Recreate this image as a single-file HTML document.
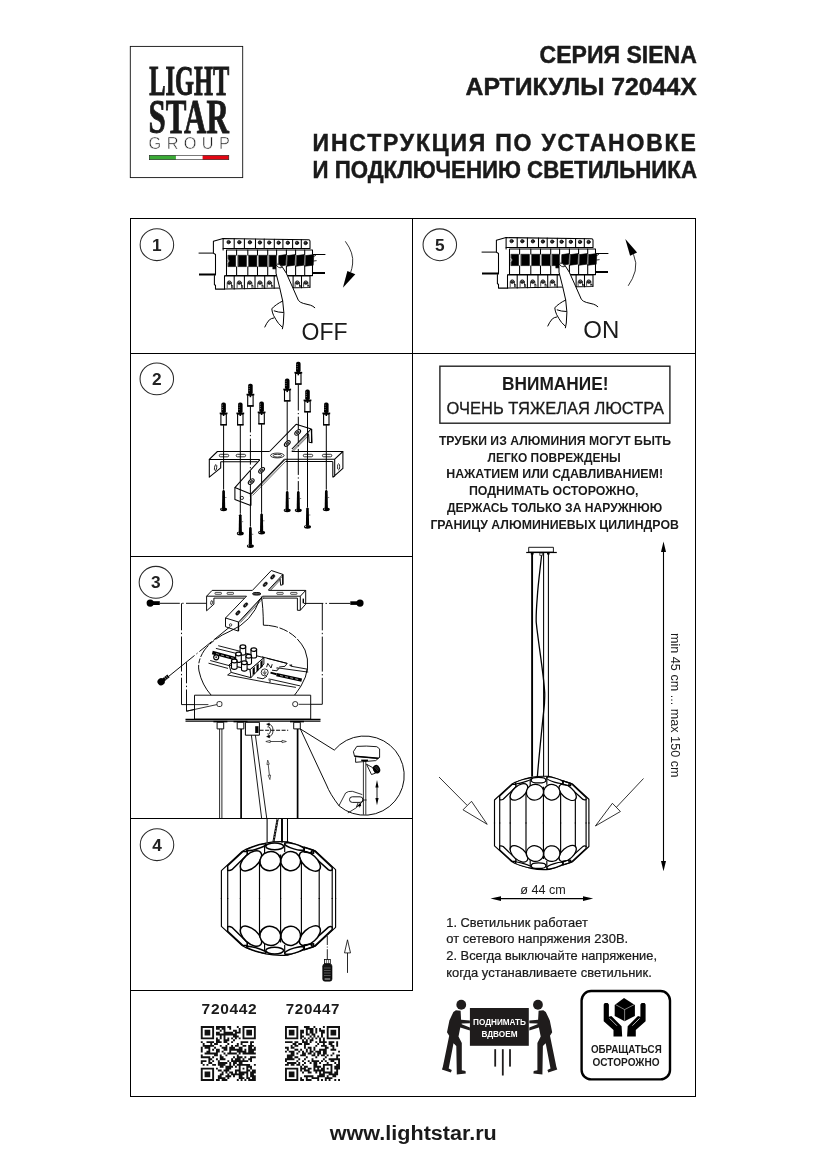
<!DOCTYPE html>
<html><head><meta charset="utf-8"><title>Siena 72044X</title>
<style>html,body{margin:0;padding:0;background:#fff}body{width:826px;height:1169px;overflow:hidden;font-family:"Liberation Sans",sans-serif}svg{display:block;will-change:transform}.el{stroke-width:1.5px}</style>
</head><body>
<svg width="826" height="1169" viewBox="0 0 826 1169">
<rect width="826" height="1169" fill="#fff"/>
<g stroke="#000" stroke-width="1" fill="none" shape-rendering="crispEdges">
<rect x="130.5" y="218.5" width="565" height="878"/>
<line x1="412.5" y1="218" x2="412.5" y2="990.5"/>
<line x1="130" y1="353.5" x2="696" y2="353.5"/>
<line x1="130" y1="556.5" x2="412" y2="556.5"/>
<line x1="130" y1="818.5" x2="412" y2="818.5"/>
<line x1="130" y1="990.5" x2="413" y2="990.5"/>
</g>
<rect x="130.3" y="46.4" width="112.4" height="131.2" fill="none" stroke="#111" stroke-width="0.9"/>
<text x="149.3" y="95.3" style="font-family:'Liberation Serif',sans-serif" font-size="41.5" font-weight="bold" fill="#1a1a1a" text-anchor="start" textLength="80.0" lengthAdjust="spacingAndGlyphs" stroke="#1a1a1a" stroke-width="1.0">LIGHT</text>
<text x="148.4" y="133.0" style="font-family:'Liberation Serif',sans-serif" font-size="48" font-weight="bold" fill="#1a1a1a" text-anchor="start" textLength="80.4" lengthAdjust="spacingAndGlyphs" stroke="#1a1a1a" stroke-width="0.9">STAR</text>
<text x="148.6" y="149.1" style="font-family:'Liberation Sans',sans-serif" font-size="16.3" font-weight="normal" fill="#222" text-anchor="start" textLength="81.2" lengthAdjust="spacing" stroke="#fff" stroke-width="0.5">GROUP</text>
<rect x="149.3" y="155.3" width="26.6" height="4.4" fill="#3aaa35"/>
<rect x="202.6" y="155.3" width="26.2" height="4.4" fill="#e30613"/>
<rect x="149.3" y="155.3" width="79.5" height="4.4" fill="none" stroke="#222" stroke-width="0.6"/>
<text x="539.6" y="62.8" style="font-family:'Liberation Sans',sans-serif" font-size="23" font-weight="bold" fill="#1a1a1a" text-anchor="start" textLength="157.2" lengthAdjust="spacingAndGlyphs" stroke="#1a1a1a" stroke-width="0.45">СЕРИЯ SIENA</text>
<text x="465.5" y="94.7" style="font-family:'Liberation Sans',sans-serif" font-size="23" font-weight="bold" fill="#1a1a1a" text-anchor="start" textLength="231.2" lengthAdjust="spacingAndGlyphs" stroke="#1a1a1a" stroke-width="0.45">АРТИКУЛЫ 72044X</text>
<text x="312.6" y="150.6" style="font-family:'Liberation Sans',sans-serif" font-size="23" font-weight="bold" fill="#1a1a1a" text-anchor="start" textLength="383.2" lengthAdjust="spacing" stroke="#1a1a1a" stroke-width="0.45">ИНСТРУКЦИЯ ПО УСТАНОВКЕ</text>
<text x="312.6" y="177.8" style="font-family:'Liberation Sans',sans-serif" font-size="23" font-weight="bold" fill="#1a1a1a" text-anchor="start" textLength="384.4" lengthAdjust="spacingAndGlyphs" stroke="#1a1a1a" stroke-width="0.45">И ПОДКЛЮЧЕНИЮ СВЕТИЛЬНИКА</text>
<ellipse cx="156.9" cy="244.7" rx="16.75" ry="15.9" fill="none" stroke="#2a2a2a" stroke-width="1.05"/>
<text x="156.9" y="250.79999999999998" style="font-family:'Liberation Sans',sans-serif" font-size="17.3" font-weight="bold" fill="#222" text-anchor="middle" >1</text>
<ellipse cx="439.8" cy="244.75" rx="16.75" ry="15.9" fill="none" stroke="#2a2a2a" stroke-width="1.05"/>
<text x="439.8" y="250.85" style="font-family:'Liberation Sans',sans-serif" font-size="17.3" font-weight="bold" fill="#222" text-anchor="middle" >5</text>
<ellipse cx="156.8" cy="378.9" rx="16.75" ry="15.9" fill="none" stroke="#2a2a2a" stroke-width="1.05"/>
<text x="156.8" y="385.0" style="font-family:'Liberation Sans',sans-serif" font-size="17.3" font-weight="bold" fill="#222" text-anchor="middle" >2</text>
<ellipse cx="155.9" cy="582.3" rx="16.75" ry="15.9" fill="none" stroke="#2a2a2a" stroke-width="1.05"/>
<text x="155.9" y="588.4" style="font-family:'Liberation Sans',sans-serif" font-size="17.3" font-weight="bold" fill="#222" text-anchor="middle" >3</text>
<ellipse cx="157" cy="844.7" rx="16.75" ry="15.9" fill="none" stroke="#2a2a2a" stroke-width="1.05"/>
<text x="157" y="850.8000000000001" style="font-family:'Liberation Sans',sans-serif" font-size="17.3" font-weight="bold" fill="#222" text-anchor="middle" >4</text>
<text x="301.5" y="339.7" style="font-family:'Liberation Sans',sans-serif" font-size="23" font-weight="normal" fill="#1a1a1a" text-anchor="start" textLength="46" lengthAdjust="spacingAndGlyphs" >OFF</text>
<text x="583.3" y="337.9" style="font-family:'Liberation Sans',sans-serif" font-size="23.3" font-weight="normal" fill="#1a1a1a" text-anchor="start" textLength="36" lengthAdjust="spacingAndGlyphs" >ON</text>
<rect x="439.9" y="366.2" width="230" height="57" fill="none" stroke="#222" stroke-width="1.4"/>
<text x="502" y="389.6" style="font-family:'Liberation Sans',sans-serif" font-size="17.5" font-weight="bold" fill="#1a1a1a" text-anchor="start" textLength="106.5" lengthAdjust="spacingAndGlyphs" >ВНИМАНИЕ!</text>
<text x="446.6" y="413.5" style="font-family:'Liberation Sans',sans-serif" font-size="17.3" font-weight="normal" fill="#1a1a1a" text-anchor="start" textLength="217.5" lengthAdjust="spacingAndGlyphs" stroke="#1a1a1a" stroke-width="0.3">ОЧЕНЬ ТЯЖЕЛАЯ ЛЮСТРА</text>
<text x="438.9" y="444.5" style="font-family:'Liberation Sans',sans-serif" font-size="12.2" font-weight="bold" fill="#1a1a1a" text-anchor="start" textLength="232.2" lengthAdjust="spacingAndGlyphs" >ТРУБКИ ИЗ АЛЮМИНИЯ МОГУТ БЫТЬ</text>
<text x="487.5" y="461.5" style="font-family:'Liberation Sans',sans-serif" font-size="12.2" font-weight="bold" fill="#1a1a1a" text-anchor="start" textLength="133.3" lengthAdjust="spacingAndGlyphs" >ЛЕГКО ПОВРЕЖДЕНЫ</text>
<text x="446.2" y="478.4" style="font-family:'Liberation Sans',sans-serif" font-size="12.2" font-weight="bold" fill="#1a1a1a" text-anchor="start" textLength="216.9" lengthAdjust="spacingAndGlyphs" >НАЖАТИЕМ ИЛИ СДАВЛИВАНИЕМ!</text>
<text x="468.9" y="495.4" style="font-family:'Liberation Sans',sans-serif" font-size="12.2" font-weight="bold" fill="#1a1a1a" text-anchor="start" textLength="169.6" lengthAdjust="spacingAndGlyphs" >ПОДНИМАТЬ ОСТОРОЖНО,</text>
<text x="446.9" y="512.3" style="font-family:'Liberation Sans',sans-serif" font-size="12.2" font-weight="bold" fill="#1a1a1a" text-anchor="start" textLength="215.4" lengthAdjust="spacingAndGlyphs" >ДЕРЖАСЬ ТОЛЬКО ЗА НАРУЖНЮЮ</text>
<text x="430.4" y="529.3" style="font-family:'Liberation Sans',sans-serif" font-size="12.2" font-weight="bold" fill="#1a1a1a" text-anchor="start" textLength="248.5" lengthAdjust="spacingAndGlyphs" >ГРАНИЦУ АЛЮМИНИЕВЫХ ЦИЛИНДРОВ</text>
<text x="446.3" y="926.8" style="font-family:'Liberation Sans',sans-serif" font-size="12.6" font-weight="normal" fill="#1a1a1a" text-anchor="start" textLength="141.5" lengthAdjust="spacingAndGlyphs" stroke="#1a1a1a" stroke-width="0.22">1. Светильник работает</text>
<text x="446.3" y="943.3" style="font-family:'Liberation Sans',sans-serif" font-size="12.6" font-weight="normal" fill="#1a1a1a" text-anchor="start" textLength="181.9" lengthAdjust="spacingAndGlyphs" stroke="#1a1a1a" stroke-width="0.22">от сетевого напряжения 230В.</text>
<text x="446.3" y="960.3" style="font-family:'Liberation Sans',sans-serif" font-size="12.6" font-weight="normal" fill="#1a1a1a" text-anchor="start" textLength="210.7" lengthAdjust="spacingAndGlyphs" stroke="#1a1a1a" stroke-width="0.22">2. Всегда выключайте напряжение,</text>
<text x="446.3" y="977.1" style="font-family:'Liberation Sans',sans-serif" font-size="12.6" font-weight="normal" fill="#1a1a1a" text-anchor="start" textLength="205.5" lengthAdjust="spacingAndGlyphs" stroke="#1a1a1a" stroke-width="0.22">когда устанавливаете светильник.</text>
<g stroke="#000" stroke-width="1.1" fill="#000">
<line x1="663.5" y1="548" x2="663.5" y2="865"/>
<path d="M663.5 541.5 L666 552 L661 552 Z M663.5 871.3 L666 861 L661 861 Z" stroke="none"/>
<line x1="497" y1="898.6" x2="587" y2="898.6"/>
<path d="M490.5 898.6 L501 896.2 L501 901 Z M593.2 898.6 L583 896.2 L583 901 Z" stroke="none"/>
</g>
<text x="520.2" y="893.6" style="font-family:'Liberation Sans',sans-serif" font-size="12.6" font-weight="normal" fill="#1a1a1a" text-anchor="start" textLength="45.5" lengthAdjust="spacingAndGlyphs" >ø 44 cm</text>
<g transform="translate(671,633) rotate(90)">
<text x="0" y="0" style="font-family:'Liberation Sans',sans-serif" font-size="13.2" font-weight="normal" fill="#1a1a1a" text-anchor="start" textLength="144.5" lengthAdjust="spacingAndGlyphs" >min 45 cm ... max 150 cm</text>
</g>
<text x="201.6" y="1013.8" style="font-family:'Liberation Sans',sans-serif" font-size="14.2" font-weight="bold" fill="#1a1a1a" text-anchor="start" textLength="55.8" lengthAdjust="spacingAndGlyphs" letter-spacing="0.6">720442</text>
<text x="285.8" y="1013.8" style="font-family:'Liberation Sans',sans-serif" font-size="14.2" font-weight="bold" fill="#1a1a1a" text-anchor="start" textLength="54.4" lengthAdjust="spacingAndGlyphs" letter-spacing="0.6">720447</text>
<path d="M200.80 1026.00h13.28v1.90h-13.28zM215.97 1026.00h9.48v1.90h-9.48zM227.35 1026.00h3.79v1.90h-3.79zM236.83 1026.00h1.90v1.90h-1.90zM242.52 1026.00h13.28v1.90h-13.28zM200.80 1027.90h1.90v1.90h-1.90zM212.18 1027.90h1.90v1.90h-1.90zM215.97 1027.90h3.79v1.90h-3.79zM221.66 1027.90h3.79v1.90h-3.79zM229.25 1027.90h1.90v1.90h-1.90zM238.73 1027.90h1.90v1.90h-1.90zM242.52 1027.90h1.90v1.90h-1.90zM253.90 1027.90h1.90v1.90h-1.90zM200.80 1029.79h1.90v1.90h-1.90zM204.59 1029.79h5.69v1.90h-5.69zM212.18 1029.79h1.90v1.90h-1.90zM219.77 1029.79h1.90v1.90h-1.90zM223.56 1029.79h1.90v1.90h-1.90zM233.04 1029.79h3.79v1.90h-3.79zM238.73 1029.79h1.90v1.90h-1.90zM242.52 1029.79h1.90v1.90h-1.90zM246.32 1029.79h5.69v1.90h-5.69zM253.90 1029.79h1.90v1.90h-1.90zM200.80 1031.69h1.90v1.90h-1.90zM204.59 1031.69h5.69v1.90h-5.69zM212.18 1031.69h1.90v1.90h-1.90zM215.97 1031.69h3.79v1.90h-3.79zM223.56 1031.69h9.48v1.90h-9.48zM234.94 1031.69h5.69v1.90h-5.69zM242.52 1031.69h1.90v1.90h-1.90zM246.32 1031.69h5.69v1.90h-5.69zM253.90 1031.69h1.90v1.90h-1.90zM200.80 1033.59h1.90v1.90h-1.90zM204.59 1033.59h5.69v1.90h-5.69zM212.18 1033.59h1.90v1.90h-1.90zM215.97 1033.59h20.86v1.90h-20.86zM242.52 1033.59h1.90v1.90h-1.90zM246.32 1033.59h5.69v1.90h-5.69zM253.90 1033.59h1.90v1.90h-1.90zM200.80 1035.48h1.90v1.90h-1.90zM212.18 1035.48h1.90v1.90h-1.90zM219.77 1035.48h1.90v1.90h-1.90zM223.56 1035.48h1.90v1.90h-1.90zM233.04 1035.48h5.69v1.90h-5.69zM242.52 1035.48h1.90v1.90h-1.90zM253.90 1035.48h1.90v1.90h-1.90zM200.80 1037.38h13.28v1.90h-13.28zM215.97 1037.38h1.90v1.90h-1.90zM219.77 1037.38h1.90v1.90h-1.90zM223.56 1037.38h1.90v1.90h-1.90zM227.35 1037.38h1.90v1.90h-1.90zM231.14 1037.38h1.90v1.90h-1.90zM234.94 1037.38h1.90v1.90h-1.90zM238.73 1037.38h1.90v1.90h-1.90zM242.52 1037.38h13.28v1.90h-13.28zM215.97 1039.28h3.79v1.90h-3.79zM223.56 1039.28h5.69v1.90h-5.69zM233.04 1039.28h1.90v1.90h-1.90zM200.80 1041.17h1.90v1.90h-1.90zM206.49 1041.17h7.59v1.90h-7.59zM215.97 1041.17h5.69v1.90h-5.69zM223.56 1041.17h3.79v1.90h-3.79zM231.14 1041.17h1.90v1.90h-1.90zM240.63 1041.17h7.59v1.90h-7.59zM250.11 1041.17h3.79v1.90h-3.79zM202.70 1043.07h1.90v1.90h-1.90zM210.28 1043.07h1.90v1.90h-1.90zM214.08 1043.07h3.79v1.90h-3.79zM227.35 1043.07h1.90v1.90h-1.90zM236.83 1043.07h1.90v1.90h-1.90zM240.63 1043.07h1.90v1.90h-1.90zM250.11 1043.07h1.90v1.90h-1.90zM202.70 1044.97h11.38v1.90h-11.38zM219.77 1044.97h1.90v1.90h-1.90zM225.46 1044.97h1.90v1.90h-1.90zM231.14 1044.97h1.90v1.90h-1.90zM234.94 1044.97h3.79v1.90h-3.79zM242.52 1044.97h3.79v1.90h-3.79zM248.21 1044.97h5.69v1.90h-5.69zM200.80 1046.86h1.90v1.90h-1.90zM204.59 1046.86h5.69v1.90h-5.69zM214.08 1046.86h1.90v1.90h-1.90zM221.66 1046.86h5.69v1.90h-5.69zM229.25 1046.86h5.69v1.90h-5.69zM238.73 1046.86h3.79v1.90h-3.79zM248.21 1046.86h3.79v1.90h-3.79zM253.90 1046.86h1.90v1.90h-1.90zM200.80 1048.76h1.90v1.90h-1.90zM208.39 1048.76h1.90v1.90h-1.90zM212.18 1048.76h1.90v1.90h-1.90zM215.97 1048.76h3.79v1.90h-3.79zM223.56 1048.76h3.79v1.90h-3.79zM229.25 1048.76h13.28v1.90h-13.28zM244.42 1048.76h1.90v1.90h-1.90zM248.21 1048.76h7.59v1.90h-7.59zM200.80 1050.66h1.90v1.90h-1.90zM206.49 1050.66h3.79v1.90h-3.79zM215.97 1050.66h3.79v1.90h-3.79zM221.66 1050.66h1.90v1.90h-1.90zM229.25 1050.66h1.90v1.90h-1.90zM236.83 1050.66h9.48v1.90h-9.48zM248.21 1050.66h5.69v1.90h-5.69zM204.59 1052.55h13.28v1.90h-13.28zM223.56 1052.55h1.90v1.90h-1.90zM227.35 1052.55h9.48v1.90h-9.48zM238.73 1052.55h1.90v1.90h-1.90zM242.52 1052.55h13.28v1.90h-13.28zM200.80 1054.45h1.90v1.90h-1.90zM214.08 1054.45h3.79v1.90h-3.79zM219.77 1054.45h1.90v1.90h-1.90zM225.46 1054.45h1.90v1.90h-1.90zM236.83 1054.45h1.90v1.90h-1.90zM200.80 1056.34h9.48v1.90h-9.48zM212.18 1056.34h1.90v1.90h-1.90zM219.77 1056.34h3.79v1.90h-3.79zM233.04 1056.34h1.90v1.90h-1.90zM236.83 1056.34h5.69v1.90h-5.69zM244.42 1056.34h1.90v1.90h-1.90zM250.11 1056.34h5.69v1.90h-5.69zM208.39 1058.24h3.79v1.90h-3.79zM215.97 1058.24h1.90v1.90h-1.90zM219.77 1058.24h5.69v1.90h-5.69zM231.14 1058.24h1.90v1.90h-1.90zM234.94 1058.24h5.69v1.90h-5.69zM242.52 1058.24h1.90v1.90h-1.90zM248.21 1058.24h3.79v1.90h-3.79zM200.80 1060.14h5.69v1.90h-5.69zM208.39 1060.14h1.90v1.90h-1.90zM212.18 1060.14h1.90v1.90h-1.90zM217.87 1060.14h1.90v1.90h-1.90zM227.35 1060.14h1.90v1.90h-1.90zM231.14 1060.14h17.07v1.90h-17.07zM250.11 1060.14h1.90v1.90h-1.90zM200.80 1062.03h1.90v1.90h-1.90zM208.39 1062.03h3.79v1.90h-3.79zM217.87 1062.03h9.48v1.90h-9.48zM229.25 1062.03h1.90v1.90h-1.90zM233.04 1062.03h3.79v1.90h-3.79zM238.73 1062.03h3.79v1.90h-3.79zM202.70 1063.93h1.90v1.90h-1.90zM206.49 1063.93h1.90v1.90h-1.90zM212.18 1063.93h3.79v1.90h-3.79zM217.87 1063.93h7.59v1.90h-7.59zM229.25 1063.93h1.90v1.90h-1.90zM233.04 1063.93h1.90v1.90h-1.90zM236.83 1063.93h13.28v1.90h-13.28zM253.90 1063.93h1.90v1.90h-1.90zM219.77 1065.83h3.79v1.90h-3.79zM225.46 1065.83h7.59v1.90h-7.59zM234.94 1065.83h1.90v1.90h-1.90zM238.73 1065.83h1.90v1.90h-1.90zM246.32 1065.83h5.69v1.90h-5.69zM200.80 1067.72h13.28v1.90h-13.28zM215.97 1067.72h1.90v1.90h-1.90zM225.46 1067.72h5.69v1.90h-5.69zM238.73 1067.72h1.90v1.90h-1.90zM242.52 1067.72h1.90v1.90h-1.90zM246.32 1067.72h1.90v1.90h-1.90zM250.11 1067.72h1.90v1.90h-1.90zM200.80 1069.62h1.90v1.90h-1.90zM212.18 1069.62h1.90v1.90h-1.90zM217.87 1069.62h3.79v1.90h-3.79zM223.56 1069.62h5.69v1.90h-5.69zM234.94 1069.62h5.69v1.90h-5.69zM246.32 1069.62h3.79v1.90h-3.79zM252.01 1069.62h3.79v1.90h-3.79zM200.80 1071.52h1.90v1.90h-1.90zM204.59 1071.52h5.69v1.90h-5.69zM212.18 1071.52h1.90v1.90h-1.90zM221.66 1071.52h1.90v1.90h-1.90zM225.46 1071.52h1.90v1.90h-1.90zM229.25 1071.52h3.79v1.90h-3.79zM234.94 1071.52h1.90v1.90h-1.90zM238.73 1071.52h9.48v1.90h-9.48zM250.11 1071.52h5.69v1.90h-5.69zM200.80 1073.41h1.90v1.90h-1.90zM204.59 1073.41h5.69v1.90h-5.69zM212.18 1073.41h1.90v1.90h-1.90zM219.77 1073.41h3.79v1.90h-3.79zM227.35 1073.41h1.90v1.90h-1.90zM231.14 1073.41h13.28v1.90h-13.28zM246.32 1073.41h1.90v1.90h-1.90zM250.11 1073.41h3.79v1.90h-3.79zM200.80 1075.31h1.90v1.90h-1.90zM204.59 1075.31h5.69v1.90h-5.69zM212.18 1075.31h1.90v1.90h-1.90zM217.87 1075.31h3.79v1.90h-3.79zM225.46 1075.31h5.69v1.90h-5.69zM233.04 1075.31h1.90v1.90h-1.90zM238.73 1075.31h3.79v1.90h-3.79zM246.32 1075.31h1.90v1.90h-1.90zM250.11 1075.31h5.69v1.90h-5.69zM200.80 1077.21h1.90v1.90h-1.90zM212.18 1077.21h1.90v1.90h-1.90zM217.87 1077.21h7.59v1.90h-7.59zM227.35 1077.21h1.90v1.90h-1.90zM238.73 1077.21h5.69v1.90h-5.69zM246.32 1077.21h3.79v1.90h-3.79zM252.01 1077.21h3.79v1.90h-3.79zM200.80 1079.10h13.28v1.90h-13.28zM215.97 1079.10h3.79v1.90h-3.79zM221.66 1079.10h5.69v1.90h-5.69zM236.83 1079.10h1.90v1.90h-1.90zM240.63 1079.10h1.90v1.90h-1.90zM244.42 1079.10h1.90v1.90h-1.90zM248.21 1079.10h7.59v1.90h-7.59z" fill="#111"/>
<path d="M285.00 1026.00h13.28v1.90h-13.28zM303.97 1026.00h5.69v1.90h-5.69zM313.45 1026.00h1.90v1.90h-1.90zM322.93 1026.00h1.90v1.90h-1.90zM326.72 1026.00h13.28v1.90h-13.28zM285.00 1027.90h1.90v1.90h-1.90zM296.38 1027.90h1.90v1.90h-1.90zM305.86 1027.90h7.59v1.90h-7.59zM315.34 1027.90h1.90v1.90h-1.90zM319.14 1027.90h1.90v1.90h-1.90zM326.72 1027.90h1.90v1.90h-1.90zM338.10 1027.90h1.90v1.90h-1.90zM285.00 1029.79h1.90v1.90h-1.90zM288.79 1029.79h5.69v1.90h-5.69zM296.38 1029.79h1.90v1.90h-1.90zM300.17 1029.79h3.79v1.90h-3.79zM305.86 1029.79h1.90v1.90h-1.90zM309.66 1029.79h3.79v1.90h-3.79zM315.34 1029.79h1.90v1.90h-1.90zM319.14 1029.79h5.69v1.90h-5.69zM326.72 1029.79h1.90v1.90h-1.90zM330.52 1029.79h5.69v1.90h-5.69zM338.10 1029.79h1.90v1.90h-1.90zM285.00 1031.69h1.90v1.90h-1.90zM288.79 1031.69h5.69v1.90h-5.69zM296.38 1031.69h1.90v1.90h-1.90zM300.17 1031.69h3.79v1.90h-3.79zM305.86 1031.69h1.90v1.90h-1.90zM309.66 1031.69h3.79v1.90h-3.79zM315.34 1031.69h1.90v1.90h-1.90zM321.03 1031.69h3.79v1.90h-3.79zM326.72 1031.69h1.90v1.90h-1.90zM330.52 1031.69h5.69v1.90h-5.69zM338.10 1031.69h1.90v1.90h-1.90zM285.00 1033.59h1.90v1.90h-1.90zM288.79 1033.59h5.69v1.90h-5.69zM296.38 1033.59h1.90v1.90h-1.90zM300.17 1033.59h1.90v1.90h-1.90zM305.86 1033.59h3.79v1.90h-3.79zM311.55 1033.59h3.79v1.90h-3.79zM321.03 1033.59h1.90v1.90h-1.90zM326.72 1033.59h1.90v1.90h-1.90zM330.52 1033.59h5.69v1.90h-5.69zM338.10 1033.59h1.90v1.90h-1.90zM285.00 1035.48h1.90v1.90h-1.90zM296.38 1035.48h1.90v1.90h-1.90zM300.17 1035.48h3.79v1.90h-3.79zM309.66 1035.48h1.90v1.90h-1.90zM313.45 1035.48h1.90v1.90h-1.90zM317.24 1035.48h1.90v1.90h-1.90zM321.03 1035.48h1.90v1.90h-1.90zM326.72 1035.48h1.90v1.90h-1.90zM338.10 1035.48h1.90v1.90h-1.90zM285.00 1037.38h13.28v1.90h-13.28zM300.17 1037.38h1.90v1.90h-1.90zM303.97 1037.38h1.90v1.90h-1.90zM307.76 1037.38h1.90v1.90h-1.90zM311.55 1037.38h1.90v1.90h-1.90zM315.34 1037.38h1.90v1.90h-1.90zM319.14 1037.38h1.90v1.90h-1.90zM322.93 1037.38h1.90v1.90h-1.90zM326.72 1037.38h13.28v1.90h-13.28zM302.07 1039.28h1.90v1.90h-1.90zM305.86 1039.28h1.90v1.90h-1.90zM309.66 1039.28h3.79v1.90h-3.79zM319.14 1039.28h1.90v1.90h-1.90zM322.93 1039.28h1.90v1.90h-1.90zM285.00 1041.17h7.59v1.90h-7.59zM294.48 1041.17h3.79v1.90h-3.79zM302.07 1041.17h5.69v1.90h-5.69zM309.66 1041.17h1.90v1.90h-1.90zM315.34 1041.17h1.90v1.90h-1.90zM319.14 1041.17h7.59v1.90h-7.59zM328.62 1041.17h5.69v1.90h-5.69zM336.21 1041.17h1.90v1.90h-1.90zM292.59 1043.07h3.79v1.90h-3.79zM298.28 1043.07h3.79v1.90h-3.79zM303.97 1043.07h5.69v1.90h-5.69zM317.24 1043.07h1.90v1.90h-1.90zM322.93 1043.07h1.90v1.90h-1.90zM328.62 1043.07h3.79v1.90h-3.79zM336.21 1043.07h1.90v1.90h-1.90zM290.69 1044.97h1.90v1.90h-1.90zM294.48 1044.97h3.79v1.90h-3.79zM303.97 1044.97h1.90v1.90h-1.90zM315.34 1044.97h1.90v1.90h-1.90zM321.03 1044.97h5.69v1.90h-5.69zM330.52 1044.97h3.79v1.90h-3.79zM336.21 1044.97h1.90v1.90h-1.90zM285.00 1046.86h3.79v1.90h-3.79zM290.69 1046.86h3.79v1.90h-3.79zM303.97 1046.86h1.90v1.90h-1.90zM307.76 1046.86h3.79v1.90h-3.79zM313.45 1046.86h1.90v1.90h-1.90zM324.83 1046.86h3.79v1.90h-3.79zM332.41 1046.86h1.90v1.90h-1.90zM286.90 1048.76h1.90v1.90h-1.90zM294.48 1048.76h3.79v1.90h-3.79zM300.17 1048.76h1.90v1.90h-1.90zM305.86 1048.76h1.90v1.90h-1.90zM309.66 1048.76h1.90v1.90h-1.90zM313.45 1048.76h1.90v1.90h-1.90zM319.14 1048.76h7.59v1.90h-7.59zM330.52 1048.76h5.69v1.90h-5.69zM285.00 1050.66h1.90v1.90h-1.90zM288.79 1050.66h5.69v1.90h-5.69zM298.28 1050.66h1.90v1.90h-1.90zM302.07 1050.66h1.90v1.90h-1.90zM305.86 1050.66h1.90v1.90h-1.90zM309.66 1050.66h3.79v1.90h-3.79zM315.34 1050.66h5.69v1.90h-5.69zM322.93 1050.66h3.79v1.90h-3.79zM338.10 1050.66h1.90v1.90h-1.90zM290.69 1052.55h3.79v1.90h-3.79zM296.38 1052.55h1.90v1.90h-1.90zM302.07 1052.55h3.79v1.90h-3.79zM307.76 1052.55h3.79v1.90h-3.79zM313.45 1052.55h1.90v1.90h-1.90zM317.24 1052.55h3.79v1.90h-3.79zM322.93 1052.55h3.79v1.90h-3.79zM332.41 1052.55h1.90v1.90h-1.90zM286.90 1054.45h7.59v1.90h-7.59zM300.17 1054.45h5.69v1.90h-5.69zM311.55 1054.45h3.79v1.90h-3.79zM317.24 1054.45h1.90v1.90h-1.90zM321.03 1054.45h3.79v1.90h-3.79zM326.72 1054.45h1.90v1.90h-1.90zM330.52 1054.45h1.90v1.90h-1.90zM336.21 1054.45h3.79v1.90h-3.79zM286.90 1056.34h5.69v1.90h-5.69zM294.48 1056.34h3.79v1.90h-3.79zM305.86 1056.34h1.90v1.90h-1.90zM315.34 1056.34h1.90v1.90h-1.90zM324.83 1056.34h1.90v1.90h-1.90zM336.21 1056.34h1.90v1.90h-1.90zM285.00 1058.24h9.48v1.90h-9.48zM298.28 1058.24h1.90v1.90h-1.90zM303.97 1058.24h1.90v1.90h-1.90zM311.55 1058.24h1.90v1.90h-1.90zM322.93 1058.24h1.90v1.90h-1.90zM328.62 1058.24h11.38v1.90h-11.38zM285.00 1060.14h1.90v1.90h-1.90zM296.38 1060.14h1.90v1.90h-1.90zM302.07 1060.14h1.90v1.90h-1.90zM307.76 1060.14h1.90v1.90h-1.90zM311.55 1060.14h7.59v1.90h-7.59zM321.03 1060.14h1.90v1.90h-1.90zM324.83 1060.14h1.90v1.90h-1.90zM330.52 1060.14h3.79v1.90h-3.79zM338.10 1060.14h1.90v1.90h-1.90zM286.90 1062.03h9.48v1.90h-9.48zM298.28 1062.03h1.90v1.90h-1.90zM303.97 1062.03h1.90v1.90h-1.90zM309.66 1062.03h1.90v1.90h-1.90zM313.45 1062.03h3.79v1.90h-3.79zM319.14 1062.03h1.90v1.90h-1.90zM326.72 1062.03h1.90v1.90h-1.90zM334.31 1062.03h1.90v1.90h-1.90zM338.10 1062.03h1.90v1.90h-1.90zM285.00 1063.93h3.79v1.90h-3.79zM290.69 1063.93h3.79v1.90h-3.79zM296.38 1063.93h3.79v1.90h-3.79zM302.07 1063.93h1.90v1.90h-1.90zM313.45 1063.93h3.79v1.90h-3.79zM322.93 1063.93h9.48v1.90h-9.48zM336.21 1063.93h3.79v1.90h-3.79zM300.17 1065.83h1.90v1.90h-1.90zM303.97 1065.83h3.79v1.90h-3.79zM313.45 1065.83h7.59v1.90h-7.59zM322.93 1065.83h1.90v1.90h-1.90zM330.52 1065.83h1.90v1.90h-1.90zM334.31 1065.83h5.69v1.90h-5.69zM285.00 1067.72h13.28v1.90h-13.28zM300.17 1067.72h5.69v1.90h-5.69zM307.76 1067.72h3.79v1.90h-3.79zM313.45 1067.72h1.90v1.90h-1.90zM317.24 1067.72h1.90v1.90h-1.90zM321.03 1067.72h3.79v1.90h-3.79zM326.72 1067.72h1.90v1.90h-1.90zM330.52 1067.72h1.90v1.90h-1.90zM334.31 1067.72h5.69v1.90h-5.69zM285.00 1069.62h1.90v1.90h-1.90zM296.38 1069.62h1.90v1.90h-1.90zM300.17 1069.62h1.90v1.90h-1.90zM303.97 1069.62h5.69v1.90h-5.69zM313.45 1069.62h11.38v1.90h-11.38zM330.52 1069.62h1.90v1.90h-1.90zM336.21 1069.62h1.90v1.90h-1.90zM285.00 1071.52h1.90v1.90h-1.90zM288.79 1071.52h5.69v1.90h-5.69zM296.38 1071.52h1.90v1.90h-1.90zM302.07 1071.52h1.90v1.90h-1.90zM307.76 1071.52h3.79v1.90h-3.79zM315.34 1071.52h1.90v1.90h-1.90zM319.14 1071.52h1.90v1.90h-1.90zM322.93 1071.52h9.48v1.90h-9.48zM334.31 1071.52h3.79v1.90h-3.79zM285.00 1073.41h1.90v1.90h-1.90zM288.79 1073.41h5.69v1.90h-5.69zM296.38 1073.41h1.90v1.90h-1.90zM319.14 1073.41h5.69v1.90h-5.69zM328.62 1073.41h9.48v1.90h-9.48zM285.00 1075.31h1.90v1.90h-1.90zM288.79 1075.31h5.69v1.90h-5.69zM296.38 1075.31h1.90v1.90h-1.90zM303.97 1075.31h9.48v1.90h-9.48zM317.24 1075.31h7.59v1.90h-7.59zM326.72 1075.31h1.90v1.90h-1.90zM332.41 1075.31h3.79v1.90h-3.79zM285.00 1077.21h1.90v1.90h-1.90zM296.38 1077.21h1.90v1.90h-1.90zM300.17 1077.21h1.90v1.90h-1.90zM305.86 1077.21h1.90v1.90h-1.90zM311.55 1077.21h7.59v1.90h-7.59zM324.83 1077.21h7.59v1.90h-7.59zM285.00 1079.10h13.28v1.90h-13.28zM300.17 1079.10h3.79v1.90h-3.79zM305.86 1079.10h5.69v1.90h-5.69zM317.24 1079.10h1.90v1.90h-1.90zM321.03 1079.10h1.90v1.90h-1.90zM324.83 1079.10h1.90v1.90h-1.90zM328.62 1079.10h1.90v1.90h-1.90zM334.31 1079.10h1.90v1.90h-1.90zM338.10 1079.10h1.90v1.90h-1.90z" fill="#111"/>
<text x="329.8" y="1140.4" style="font-family:'Liberation Sans',sans-serif" font-size="20.3" font-weight="bold" fill="#1a1a1a" text-anchor="start" textLength="167" lengthAdjust="spacingAndGlyphs" >www.lightstar.ru</text>
<g fill="#1f1c1c">
<polygon points="455.9,1010.3 460.6,1010.7 461.1,1019.7 469.9,1020.4 469.9,1023.2 461.7,1023.6 461.7,1024.3 469.9,1027.4 469.9,1030.6 460.3,1027.6 458.5,1036.4 461.8,1043.1 461.8,1070.3 465.5,1071.1 465.8,1073.4 456.8,1074.4 456.3,1046.0 453.5,1043.3 448.7,1068.6 451.8,1069.9 450.9,1072.6 441.9,1069.6 442.8,1067.0 449.2,1035.7 447.0,1032.3 449.4,1020.4 453.4,1011.9" />
<circle cx="461.25" cy="1004.75" r="4.9"/>
<polygon points="543.3,1010.3 538.6,1010.7 538.1,1019.7 529.3,1020.4 529.3,1023.2 537.5,1023.6 537.5,1024.3 529.3,1027.4 529.3,1030.6 538.9,1027.6 540.7,1036.4 537.4,1043.1 537.4,1070.3 533.7,1071.1 533.4,1073.4 542.4,1074.4 542.9,1046.0 545.7,1043.3 550.5,1068.6 547.4,1069.9 548.3,1072.6 557.3,1069.6 556.4,1067.0 550.0,1035.7 552.2,1032.3 549.8,1020.4 545.8,1011.9" />
<circle cx="537.95" cy="1004.75" r="4.9"/>
<rect x="469.9" y="1008" width="58.9" height="37.8"/>
<rect x="494.3" y="1049.2" width="1.8" height="17.4"/><rect x="501.9" y="1049.2" width="1.8" height="26.3"/><rect x="509.1" y="1049.2" width="1.8" height="17.4"/>
</g>
<text x="473.0" y="1024.8" style="font-family:'Liberation Sans',sans-serif" font-size="8.6" font-weight="bold" fill="#fff" text-anchor="start" textLength="53.0" lengthAdjust="spacingAndGlyphs" >ПОДНИМАТЬ</text>
<text x="481.4" y="1037.0" style="font-family:'Liberation Sans',sans-serif" font-size="8.6" font-weight="bold" fill="#fff" text-anchor="start" textLength="36.2" lengthAdjust="spacingAndGlyphs" >ВДВОЕМ</text>
<rect x="581.6" y="991" width="88.4" height="88.4" rx="9.5" ry="9.5" fill="none" stroke="#000" stroke-width="2.4"/>
<polygon points="624.0,998.1 634.9,1005.0 634.9,1015.9 624.6,1021.3 614.7,1015.9 614.7,1005.0" fill="#000"/>
<path d="M624.6 1009.6L615.7 1004.7M624.6 1009.6L634.1 1004.7M624.6 1009.6L624.6 1020.8" stroke="#fff" stroke-width="0.5" fill="none"/>
<polygon points="603.7,1004.4 604.7,1002.9 607.7,1002.9 608.9,1004.4 608.9,1016.7 611.3,1015.9 621.6,1026.2 622.2,1036.5 613.5,1036.5 613.5,1030.0 603.7,1021.3" fill="#000"/>
<polygon points="645.6,1004.4 644.6,1002.9 641.6,1002.9 640.4,1004.4 640.4,1016.7 638.0,1015.9 627.7,1026.2 627.1,1036.5 635.8,1036.5 635.8,1030.0 645.6,1021.3" fill="#000"/>
<path d="M609.6 1018.4L616.9 1025.7M639.6 1018.4L632.4 1025.7" stroke="#fff" stroke-width="0.7" fill="none"/>
<text x="590.9" y="1052.8" style="font-family:'Liberation Sans',sans-serif" font-size="10.2" font-weight="bold" fill="#1a1a1a" text-anchor="start" textLength="70.8" lengthAdjust="spacingAndGlyphs" >ОБРАЩАТЬСЯ</text>
<text x="592.5" y="1066.1" style="font-family:'Liberation Sans',sans-serif" font-size="10.2" font-weight="bold" fill="#1a1a1a" text-anchor="start" textLength="67.0" lengthAdjust="spacingAndGlyphs" >ОСТОРОЖНО</text>
<defs><g id="panel" fill="none" stroke="#000" stroke-width="1.05" stroke-linejoin="round" stroke-linecap="round">
<path d="M199 253.1H213.4M313.4 254.5H325" stroke-width="1"/>
<path d="M199 274.6H215M313 272.9H325" stroke-width="2" stroke-linecap="butt"/>
<path d="M223.1 238.6L213.4 241.2V253.1L215.5 254.5V274.6L214.4 276V284.8L215.5 285.3V289.1H224.5" fill="#fff"/>
<path d="M223.1 238.6L308.5 239.7Q310 239.8 310 241.3V248.4H223.1Z" fill="#fff"/>
<path d="M234.2 238.7V248.4M244.4 238.9V248.4M255.5 239.0V248.4M264.2 239.1V248.4M274.3 239.2V248.4M282.9 239.4V248.4M292.6 239.5V248.4M301.3 239.6V248.4"/>
<circle cx="228.6" cy="242.1" r="1.7" fill="#222" stroke="#000" stroke-width="0.7"/>
<circle cx="228.2" cy="241.7" r="0.45" fill="#999" stroke="none"/>
<circle cx="239.3" cy="242.2" r="1.7" fill="#222" stroke="#000" stroke-width="0.7"/>
<circle cx="238.9" cy="241.8" r="0.45" fill="#999" stroke="none"/>
<circle cx="249.9" cy="242.3" r="1.7" fill="#222" stroke="#000" stroke-width="0.7"/>
<circle cx="249.5" cy="241.9" r="0.45" fill="#999" stroke="none"/>
<circle cx="259.9" cy="242.5" r="1.7" fill="#222" stroke="#000" stroke-width="0.7"/>
<circle cx="259.5" cy="242.1" r="0.45" fill="#999" stroke="none"/>
<circle cx="269.2" cy="242.6" r="1.7" fill="#222" stroke="#000" stroke-width="0.7"/>
<circle cx="268.9" cy="242.2" r="0.45" fill="#999" stroke="none"/>
<circle cx="278.6" cy="242.7" r="1.7" fill="#222" stroke="#000" stroke-width="0.7"/>
<circle cx="278.2" cy="242.3" r="0.45" fill="#999" stroke="none"/>
<circle cx="287.8" cy="242.8" r="1.7" fill="#222" stroke="#000" stroke-width="0.7"/>
<circle cx="287.4" cy="242.4" r="0.45" fill="#999" stroke="none"/>
<circle cx="297.0" cy="242.9" r="1.7" fill="#222" stroke="#000" stroke-width="0.7"/>
<circle cx="296.6" cy="242.5" r="0.45" fill="#999" stroke="none"/>
<circle cx="305.6" cy="243.0" r="1.7" fill="#222" stroke="#000" stroke-width="0.7"/>
<circle cx="305.2" cy="242.6" r="0.45" fill="#999" stroke="none"/>
<rect x="226.5" y="249.9" width="86" height="25.7" fill="#fff"/>
<path d="M236.6 249.9V275.6M247.8 249.9V275.6M257.5 249.9V275.6M267.7 249.9V275.6M276.6 249.9V275.6M286.4 249.9V275.6M295.6 249.9V275.6M304.7 249.9V275.6"/>
<path d="M223.1 248.4V249.9M226.5 275.6L224.5 276"/>
<path d="M227.2 255.6H278V266.4H227.2ZM278 255.6L313.4 254.8V265L278 266.2Z" fill="#fff" stroke="none"/>
<path d="M228.2 255.3H235.6V266.6H228.2Z" fill="#000" stroke="#000" stroke-width="0.6"/>
<path d="M238.2 255.3H246.4V266.6H238.2Z" fill="#000" stroke="#000" stroke-width="0.6"/>
<path d="M248.8 255.3H256.8V266.6H248.8Z" fill="#000" stroke="#000" stroke-width="0.6"/>
<path d="M259 255.3H267.2V266.6H259Z" fill="#000" stroke="#000" stroke-width="0.6"/>
<path d="M269.2 255.3H276.4V266.6H269.2Z" fill="#000" stroke="#000" stroke-width="0.6"/>
<path d="M279 255.6L286.20000000000005 254.6L285.6 265.2L278.6 266.2Z" fill="#000" stroke="#000" stroke-width="0.6"/>
<path d="M287.4 255.6L295.20000000000005 254.6L294.6 265.2L287.0 266.2Z" fill="#000" stroke="#000" stroke-width="0.6"/>
<path d="M296.6 255.6L304.40000000000003 254.6L303.8 265.2L296.20000000000005 266.2Z" fill="#000" stroke="#000" stroke-width="0.6"/>
<path d="M305.6 255.6L313.8 254.6L313.2 265.2L305.20000000000005 266.2Z" fill="#000" stroke="#000" stroke-width="0.6"/>
<path d="M227.9 259.5l1.2 1.5l-1.2 1.5" stroke="#fff" stroke-width="0.7"/>
<path d="M273 266V268.8H277.8V266.5Z" fill="#000"/>
<path d="M313.6 256.5l2 -1M313.6 261l2.6 -0.3" stroke-width="0.8"/>
<path d="M224.5 276H310V287.6L224.5 289.1Z" fill="#fff"/>
<path d="M234.2 276V288.9M244.4 276V288.8M255 276V288.6M264.7 276V288.4M274.2 276V288.2M283.4 276V288.1M293.1 276V287.9M301.5 276V287.7"/>
<circle cx="229.3" cy="282.6" r="1.9" fill="#222" stroke="#000" stroke-width="0.5"/>
<path d="M228.7 282.2a0.8 0.8 0 1 1 1.2 0.8" stroke="#bbb" stroke-width="0.45"/>
<path d="M227.2 283V287.8M231.5 283V287.8M231.5 285.5H232.7V287.8" stroke-width="0.7"/>
<circle cx="239.3" cy="282.6" r="1.9" fill="#222" stroke="#000" stroke-width="0.5"/>
<path d="M238.6 282.2a0.8 0.8 0 1 1 1.2 0.8" stroke="#bbb" stroke-width="0.45"/>
<path d="M237.1 283V287.6M241.5 283V287.6M241.5 285.5H242.6V287.6" stroke-width="0.7"/>
<circle cx="249.7" cy="282.6" r="1.9" fill="#222" stroke="#000" stroke-width="0.5"/>
<path d="M249.0 282.2a0.8 0.8 0 1 1 1.2 0.8" stroke="#bbb" stroke-width="0.45"/>
<path d="M247.5 283V287.5M251.9 283V287.5M251.9 285.5H253.0V287.5" stroke-width="0.7"/>
<circle cx="259.9" cy="282.6" r="1.9" fill="#222" stroke="#000" stroke-width="0.5"/>
<path d="M259.2 282.2a0.8 0.8 0 1 1 1.2 0.8" stroke="#bbb" stroke-width="0.45"/>
<path d="M257.7 283V287.3M262.1 283V287.3M262.1 285.5H263.2V287.3" stroke-width="0.7"/>
<circle cx="269.4" cy="282.6" r="1.9" fill="#222" stroke="#000" stroke-width="0.5"/>
<path d="M268.8 282.2a0.8 0.8 0 1 1 1.2 0.8" stroke="#bbb" stroke-width="0.45"/>
<path d="M267.2 283V287.1M271.6 283V287.1M271.6 285.5H272.8V287.1" stroke-width="0.7"/>
<circle cx="297.3" cy="282.6" r="1.9" fill="#222" stroke="#000" stroke-width="0.5"/>
<path d="M296.6 282.2a0.8 0.8 0 1 1 1.2 0.8" stroke="#bbb" stroke-width="0.45"/>
<path d="M295.1 283V286.6M299.5 283V286.6M299.5 285.5H300.6V286.6" stroke-width="0.7"/>
<circle cx="305.8" cy="282.6" r="1.9" fill="#222" stroke="#000" stroke-width="0.5"/>
<path d="M305.1 282.2a0.8 0.8 0 1 1 1.2 0.8" stroke="#bbb" stroke-width="0.45"/>
<path d="M303.6 283V286.5M307.9 283V286.5M307.9 285.5H309.1V286.5" stroke-width="0.7"/>
<path d="M276.0 265.6Q277.6 263.2 281.3 265.4L286.3 273.2L291.2 284.1L296 295L298.4 300.4Q300.3 302.6 303.3 303.4L310.5 305.2Q313 306 314.8 307.7L300 318L283.9 313.1L282.7 301L279.7 287.7L276 273.2Z" fill="#fff" stroke="none"/>
<path d="M276.0 265.6Q277.6 263.2 281.3 265.4L286.3 273.2L291.2 284.1L296 295L298.4 300.4Q300.3 302.6 303.3 303.4L310.5 305.2Q313 306 314.8 307.7" stroke-width="1"/>
<path d="M276.0 265.6L276 273.2L279.7 287.7L282.7 301L283.9 313.1L283.3 324L282.4 328.8" stroke-width="1"/>
<ellipse cx="279" cy="266" rx="2.7" ry="1.4" transform="rotate(32 279 266)" fill="#fff" stroke-width="0.7"/>
<path d="M282.7 301Q279 302.8 276.6 304.6Q273 307 271.8 308.9Q272 312 273.6 315.5Q276 320 278.5 323.4L282.1 327" stroke-width="1"/>
<path d="M274.2 310.9Q278 312.4 283.3 312.5M273.6 318Q271 318.5 269.4 319.8Q266.5 323 264.8 327" stroke-width="1"/>
</g></defs>
<use href="#panel"/>
<use href="#panel" transform="translate(283,-1.0)"/>
<path d="M345.3 241.3Q354 253 352.6 264Q352 269 350.6 272.5" fill="none" stroke="#000" stroke-width="0.8"/>
<path d="M347.4 270.9L355.3 274.3L342.9 287.8Z" fill="#000"/>
<path d="M633.5 254.3Q637.2 263 635.2 271Q633 279 628.2 285.8" fill="none" stroke="#000" stroke-width="0.8"/>
<path d="M625.3 239.1L637.1 252.5L630.1 255.8Z" fill="#000"/>
<g fill="none" stroke="#000" stroke-width="1.05" stroke-linejoin="round" stroke-linecap="butt">
<path d="M223.6 425.2V489.5" stroke-width="1"/>
<path d="M240.3 425.2V513.7" stroke-width="1"/>
<path d="M250.4 406.4V526.3" stroke-width="1" stroke-dasharray="26 2.5 1.2 2.5"/>
<path d="M261.6 424.2V512.8" stroke-width="1"/>
<path d="M287.2 401.3V490.5" stroke-width="1"/>
<path d="M298.3 384.5V490.5" stroke-width="1" stroke-dasharray="26 2.5 1.2 2.5"/>
<path d="M307.5 412.2V507" stroke-width="1"/>
<path d="M326.3 425.2V489.5" stroke-width="1"/>
<path d="M269.6 451.5H217.4L209.3 459.4H259.8M291.9 451.5H342.9L334.7 459.2H284.3"/>
<path d="M220.7 461.8H257.5M286 461.5H332.7"/>
<path d="M209.3 459.4V477.2L220.7 467.9V461.8"/>
<ellipse cx="215.6" cy="467.6" rx="1.1" ry="3" transform="rotate(8 215.6 467.6)" stroke-width="0.8"/>
<path d="M334.7 459.2V476L333.1 477.2L342.9 468.4V451.5M332.8 461.5V477.2"/>
<ellipse cx="338.6" cy="466.8" rx="1.1" ry="3" stroke-width="0.8"/>
<rect x="219.3" y="454.3" width="9.4" height="2.5" rx="1.25" stroke-width="0.8"/>
<rect x="236.20000000000002" y="454.3" width="9.4" height="2.5" rx="1.25" stroke-width="0.8"/>
<rect x="303.3" y="454.3" width="9.4" height="2.5" rx="1.25" stroke-width="0.8"/>
<rect x="322.40000000000003" y="454.3" width="9.4" height="2.5" rx="1.25" stroke-width="0.8"/>
<ellipse cx="277.3" cy="455.5" rx="6.8" ry="2.4" stroke-width="0.8"/><ellipse cx="277.3" cy="455.7" rx="4.3" ry="1.4" stroke-width="0.8"/>
<path d="M259.8 459.8L234.9 487.6L250.7 494.1L284.3 459.3"/>
<path d="M269.6 451.5L296.1 424.3L311.3 428.9L291.9 449"/>
<path d="M252 494L285.4 459.5M252.6 495.4L286.6 460.4" stroke-width="0.6"/>
<path d="M310 432.2L291.3 451.5M308.6 435.5L293 451.5" stroke-width="0.6"/>
<path d="M234.9 487.6V499.5L250.7 505.5V494.1" /><path d="M250.7 494.1V505.5" stroke-width="1.3"/>
<circle cx="241.9" cy="497.9" r="1.6" stroke-width="0.8"/>
<path d="M311.3 428.9L311.9 442.8L309.1 442.2L308.6 433.8" fill="#fff"/><path d="M311.6 429V442.8" stroke-width="1.3"/>
<ellipse cx="251.2" cy="481.6" rx="3.5" ry="1.9" transform="rotate(-42 251.2 481.6)" stroke-width="1" fill="#fff"/>
<ellipse cx="251.2" cy="481.6" rx="1.7" ry="0.8" transform="rotate(-42 251.2 481.6)" stroke-width="0.7" fill="#666"/>
<ellipse cx="261.6" cy="470.3" rx="3.5" ry="1.9" transform="rotate(-42 261.6 470.3)" stroke-width="1" fill="#fff"/>
<ellipse cx="261.6" cy="470.3" rx="1.7" ry="0.8" transform="rotate(-42 261.6 470.3)" stroke-width="0.7" fill="#666"/>
<ellipse cx="287.3" cy="443.5" rx="3.5" ry="1.9" transform="rotate(-42 287.3 443.5)" stroke-width="1" fill="#fff"/>
<ellipse cx="287.3" cy="443.5" rx="1.7" ry="0.8" transform="rotate(-42 287.3 443.5)" stroke-width="0.7" fill="#666"/>
<ellipse cx="297.7" cy="432.4" rx="3.5" ry="1.9" transform="rotate(-42 297.7 432.4)" stroke-width="1" fill="#fff"/>
<ellipse cx="297.7" cy="432.4" rx="1.7" ry="0.8" transform="rotate(-42 297.7 432.4)" stroke-width="0.7" fill="#666"/>
<rect x="221.29999999999998" y="402.5" width="4.6" height="10.6" rx="1.9" fill="#000" stroke="none"/>
<path d="M222.4 404.7v0.8m0 1.4v0.8m0 1.4v0.8" stroke="#ddd" stroke-width="0.7"/>
<path d="M219.7 413.4H227.5" stroke-width="1.7"/>
<rect x="220.9" y="414.1" width="5.4" height="10.6" fill="#fff" stroke-width="1.1"/>
<path d="M220.29999999999998 424.8H226.9" stroke-width="1.4"/>
<rect x="222.79999999999998" y="414.0" width="1.6" height="2" fill="#000" stroke="none"/>
<rect x="238.0" y="402.5" width="4.6" height="10.6" rx="1.9" fill="#000" stroke="none"/>
<path d="M239.10000000000002 404.7v0.8m0 1.4v0.8m0 1.4v0.8" stroke="#ddd" stroke-width="0.7"/>
<path d="M236.4 413.4H244.20000000000002" stroke-width="1.7"/>
<rect x="237.60000000000002" y="414.1" width="5.4" height="10.6" fill="#fff" stroke-width="1.1"/>
<path d="M237.0 424.8H243.60000000000002" stroke-width="1.4"/>
<rect x="239.5" y="414.0" width="1.6" height="2" fill="#000" stroke="none"/>
<rect x="248.1" y="383.7" width="4.6" height="10.6" rx="1.9" fill="#000" stroke="none"/>
<path d="M249.20000000000002 385.9v0.8m0 1.4v0.8m0 1.4v0.8" stroke="#ddd" stroke-width="0.7"/>
<path d="M246.5 394.59999999999997H254.3" stroke-width="1.7"/>
<rect x="247.70000000000002" y="395.3" width="5.4" height="10.6" fill="#fff" stroke-width="1.1"/>
<path d="M247.1 406.0H253.70000000000002" stroke-width="1.4"/>
<rect x="249.6" y="395.2" width="1.6" height="2" fill="#000" stroke="none"/>
<rect x="259.3" y="401.5" width="4.6" height="10.6" rx="1.9" fill="#000" stroke="none"/>
<path d="M260.40000000000003 403.7v0.8m0 1.4v0.8m0 1.4v0.8" stroke="#ddd" stroke-width="0.7"/>
<path d="M257.70000000000005 412.4H265.5" stroke-width="1.7"/>
<rect x="258.90000000000003" y="413.1" width="5.4" height="10.6" fill="#fff" stroke-width="1.1"/>
<path d="M258.3 423.8H264.90000000000003" stroke-width="1.4"/>
<rect x="260.8" y="413.0" width="1.6" height="2" fill="#000" stroke="none"/>
<rect x="284.9" y="378.6" width="4.6" height="10.6" rx="1.9" fill="#000" stroke="none"/>
<path d="M286.0 380.8v0.8m0 1.4v0.8m0 1.4v0.8" stroke="#ddd" stroke-width="0.7"/>
<path d="M283.3 389.5H291.09999999999997" stroke-width="1.7"/>
<rect x="284.5" y="390.20000000000005" width="5.4" height="10.6" fill="#fff" stroke-width="1.1"/>
<path d="M283.9 400.90000000000003H290.5" stroke-width="1.4"/>
<rect x="286.4" y="390.1" width="1.6" height="2" fill="#000" stroke="none"/>
<rect x="296.0" y="361.8" width="4.6" height="10.6" rx="1.9" fill="#000" stroke="none"/>
<path d="M297.1 364.0v0.8m0 1.4v0.8m0 1.4v0.8" stroke="#ddd" stroke-width="0.7"/>
<path d="M294.40000000000003 372.7H302.2" stroke-width="1.7"/>
<rect x="295.6" y="373.40000000000003" width="5.4" height="10.6" fill="#fff" stroke-width="1.1"/>
<path d="M295.0 384.1H301.6" stroke-width="1.4"/>
<rect x="297.5" y="373.3" width="1.6" height="2" fill="#000" stroke="none"/>
<rect x="305.2" y="389.5" width="4.6" height="10.6" rx="1.9" fill="#000" stroke="none"/>
<path d="M306.3 391.7v0.8m0 1.4v0.8m0 1.4v0.8" stroke="#ddd" stroke-width="0.7"/>
<path d="M303.6 400.4H311.4" stroke-width="1.7"/>
<rect x="304.8" y="401.1" width="5.4" height="10.6" fill="#fff" stroke-width="1.1"/>
<path d="M304.2 411.8H310.8" stroke-width="1.4"/>
<rect x="306.7" y="401.0" width="1.6" height="2" fill="#000" stroke="none"/>
<rect x="324.0" y="402.5" width="4.6" height="10.6" rx="1.9" fill="#000" stroke="none"/>
<path d="M325.1 404.7v0.8m0 1.4v0.8m0 1.4v0.8" stroke="#ddd" stroke-width="0.7"/>
<path d="M322.40000000000003 413.4H330.2" stroke-width="1.7"/>
<rect x="323.6" y="414.1" width="5.4" height="10.6" fill="#fff" stroke-width="1.1"/>
<path d="M323.0 424.8H329.6" stroke-width="1.4"/>
<rect x="325.5" y="414.0" width="1.6" height="2" fill="#000" stroke="none"/>
<path d="M223.6 489.5L224.9 491.1L225.2 508.0H222.0L222.29999999999998 491.1Z" fill="#000" stroke="none"/>
<ellipse cx="223.6" cy="509.3" rx="3.5" ry="1.9" fill="#000" stroke="none"/>
<circle cx="221.7" cy="509.0" r="0.6" fill="#eee" stroke="none"/>
<path d="M225.1 497.5h1.4" stroke-width="0.5"/>
<path d="M240.3 513.7L241.60000000000002 515.3000000000001L241.9 532.2H238.70000000000002L239.0 515.3000000000001Z" fill="#000" stroke="none"/>
<ellipse cx="240.3" cy="533.5" rx="3.5" ry="1.9" fill="#000" stroke="none"/>
<circle cx="238.4" cy="533.2" r="0.6" fill="#eee" stroke="none"/>
<path d="M241.8 521.7h1.4" stroke-width="0.5"/>
<path d="M250.4 526.3L251.70000000000002 527.9L252.0 544.8H248.8L249.1 527.9Z" fill="#000" stroke="none"/>
<ellipse cx="250.4" cy="546.0999999999999" rx="3.5" ry="1.9" fill="#000" stroke="none"/>
<circle cx="248.5" cy="545.8" r="0.6" fill="#eee" stroke="none"/>
<path d="M251.9 534.3h1.4" stroke-width="0.5"/>
<path d="M261.6 512.8L262.90000000000003 514.4L263.20000000000005 531.3H260.0L260.3 514.4Z" fill="#000" stroke="none"/>
<ellipse cx="261.6" cy="532.5999999999999" rx="3.5" ry="1.9" fill="#000" stroke="none"/>
<circle cx="259.70000000000005" cy="532.3" r="0.6" fill="#eee" stroke="none"/>
<path d="M263.1 520.8h1.4" stroke-width="0.5"/>
<path d="M287.2 490.5L288.5 492.1L288.8 509.0H285.59999999999997L285.9 492.1Z" fill="#000" stroke="none"/>
<ellipse cx="287.2" cy="510.3" rx="3.5" ry="1.9" fill="#000" stroke="none"/>
<circle cx="285.3" cy="510.0" r="0.6" fill="#eee" stroke="none"/>
<path d="M288.7 498.5h1.4" stroke-width="0.5"/>
<path d="M298.3 490.5L299.6 492.1L299.90000000000003 509.0H296.7L297.0 492.1Z" fill="#000" stroke="none"/>
<ellipse cx="298.3" cy="510.3" rx="3.5" ry="1.9" fill="#000" stroke="none"/>
<circle cx="296.40000000000003" cy="510.0" r="0.6" fill="#eee" stroke="none"/>
<path d="M299.8 498.5h1.4" stroke-width="0.5"/>
<path d="M307.5 507L308.8 508.6L309.1 525.5H305.9L306.2 508.6Z" fill="#000" stroke="none"/>
<ellipse cx="307.5" cy="526.8" rx="3.5" ry="1.9" fill="#000" stroke="none"/>
<circle cx="305.6" cy="526.5" r="0.6" fill="#eee" stroke="none"/>
<path d="M309.0 515h1.4" stroke-width="0.5"/>
<path d="M326.3 489.5L327.6 491.1L327.90000000000003 508.0H324.7L325.0 491.1Z" fill="#000" stroke="none"/>
<ellipse cx="326.3" cy="509.3" rx="3.5" ry="1.9" fill="#000" stroke="none"/>
<circle cx="324.40000000000003" cy="509.0" r="0.6" fill="#eee" stroke="none"/>
<path d="M327.8 497.5h1.4" stroke-width="0.5"/>
</g>
<g fill="none" stroke="#000" stroke-width="0.95" stroke-linejoin="round" stroke-linecap="butt">
<path d="M252.4 590.4H212.1L206.6 596.2H246.5M268.4 590.4H305.7L300.3 596.2H262.5"/>
<path d="M213.9 598.1H244.5M263 598.1H297.4"/>
<path d="M206.6 596.2V610.8L213.9 604.2V598.1"/>
<ellipse cx="211.6" cy="602.6" rx="0.9" ry="2.1" transform="rotate(10 211.6 602.6)" stroke-width="0.7"/>
<path d="M300.3 596.2V610.3L297.4 610.3V598.1M300.3 610.3L305.7 604.2V590.4"/>
<rect x="302.6" y="598.6" width="1.4" height="4.6" fill="#000" stroke="none"/>
<rect x="215.0" y="592.4" width="6.4" height="1.9" rx="0.6" stroke-width="0.7"/>
<rect x="227.10000000000002" y="592.4" width="6.4" height="1.9" rx="0.6" stroke-width="0.7"/>
<rect x="276.8" y="592.4" width="6.4" height="1.9" rx="0.6" stroke-width="0.7"/>
<rect x="290.6" y="592.4" width="6.4" height="1.9" rx="0.6" stroke-width="0.7"/>
<ellipse cx="256.7" cy="593.8" rx="4.2" ry="1.3" fill="#555" stroke-width="1"/>
<path d="M246.5 596.2L225.5 618L238.6 622L262.5 596.4"/>
<path d="M252.4 590.4L271.3 570.5L282.9 574.4L268.4 590"/>
<path d="M239.6 621.8L263.2 596.6M240.4 622.6L263.8 597.6" stroke-width="0.55"/>
<path d="M281.8 577L269.6 590M280.6 579.6L270.8 590.2" stroke-width="0.55"/>
<path d="M225.5 618V626.7L238.3 631.1L238.6 622"/><path d="M238.5 622V631.1" stroke-width="1.3"/>
<circle cx="230.6" cy="624.9" r="1.2" stroke-width="0.7"/>
<path d="M282.9 574.4V584.6L280.7 585.3L280 578.8"/><path d="M282.8 574.6V584.6" stroke-width="1.2"/>
<ellipse cx="237.9" cy="612.9" rx="2.7" ry="1.5" transform="rotate(-45 237.9 612.9)" fill="#111" stroke-width="0.5"/>
<circle cx="237.9" cy="612.9" r="0.5" fill="#ccc" stroke="none"/>
<ellipse cx="245.6" cy="605" rx="2.7" ry="1.5" transform="rotate(-45 245.6 605)" fill="#111" stroke-width="0.5"/>
<circle cx="245.6" cy="605" r="0.5" fill="#ccc" stroke="none"/>
<ellipse cx="265.2" cy="584.3" rx="2.7" ry="1.5" transform="rotate(-45 265.2 584.3)" fill="#111" stroke-width="0.5"/>
<circle cx="265.2" cy="584.3" r="0.5" fill="#ccc" stroke="none"/>
<ellipse cx="272.7" cy="576.9" rx="2.7" ry="1.5" transform="rotate(-45 272.7 576.9)" fill="#111" stroke-width="0.5"/>
<circle cx="272.7" cy="576.9" r="0.5" fill="#ccc" stroke="none"/>
<circle cx="150.2" cy="603.1" r="3.6" fill="#000" stroke="none"/><rect x="152" y="601.2" width="7.8" height="3.8" fill="#000" stroke="none"/>
<circle cx="360" cy="603.1" r="3.6" fill="#000" stroke="none"/><rect x="350.3" y="601.3" width="8" height="3.6" fill="#000" stroke="none"/>
<path d="M159.8 603.3H206.2" stroke-dasharray="20 2.4 1.4 2.4 40"/>
<path d="M303.8 603.4H350.3" stroke-dasharray="19.5 2.2 1.4 2.2 40"/>
<path d="M181.5 603.3V704.6H208.4" stroke-dasharray="27 2.4 1.4 2.4 35 2.4 1.4 2.4 200"/>
<path d="M322.3 603.4V704.3H298.7" stroke-dasharray="27 2.4 1.4 2.4 35 2.4 1.4 2.4 200"/>
<path d="M186.5 662.3V711.2L216.8 704.6" stroke-dasharray="21 2.4 1.4 2.4 200"/>
<g transform="rotate(-39 161.1 681.8)"><circle cx="161.1" cy="681.8" r="3.6" fill="#000" stroke="none"/><rect x="163" y="680" width="7.6" height="3.6" fill="#000" stroke="none"/><path d="M166.5 679.5v4.6M168.5 679.5v4.6" stroke="#fff" stroke-width="0.4"/></g>
<path d="M168.9 676.2L230.1 626.7" stroke-dasharray="33 2.4 1.4 2.4 16 2.4 40"/>
<path d="M261.3 596.5Q263.2 606 263.4 625.2Q268 625 275 626.5"/>
<path d="M275 626.5Q296 632 305 650Q312 668 301 686Q297 692 294.5 695.2" stroke-dasharray="3 1.6 9 1.6 9 1.6 200"/>
<path d="M260 599Q252 622 230.1 631.2Q214 638 204.5 650Q197 661 199 671Q202 685 211.2 695.2" stroke-dasharray="62 1.6 6 1.6 14 1.6 5 1.6 200"/>
<g stroke-width="0.9">
<path d="M218.2 645.7L241 651.5M262 656.8L287.2 663.4L285 666.3L279.2 667M291.5 666.3L307.5 669.2L306.5 672.5"/>
<path d="M215.9 648.4L235.5 653.2"/>
<path d="M210.2 660.5L229.1 665.6M208.5 663.2L228 668.4"/>
<path d="M227.6 675L269.7 683L270.3 680.5M231.2 672.4L227.6 675M271.2 679.4L300.2 685.9M269.7 683L295.9 687.4M279.2 668.1L308.2 672.1M266.8 658.3L287.2 663.4"/>
<path d="M267 676.2L263 678.8L257 677.6M279.2 668.1L277 670.8L272 670.2"/>
</g>
<path d="M212.3 652.5L237 659.1" stroke-width="3.4"/><path d="M216 653.6L234 658.4" stroke="#fff" stroke-width="0.6" stroke-dasharray="3 2.2"/>
<path d="M276.5 674.6L301.7 680.1" stroke-width="3.2"/><path d="M280 675.5L299 679.6" stroke="#fff" stroke-width="0.6" stroke-dasharray="3 2.2"/>
<path d="M270.5 672.6l6 1.6" stroke-width="2"/>
<circle cx="216.2" cy="657.3" r="2.5" fill="#fff" stroke-width="1.2"/><circle cx="216.2" cy="657.3" r="1" fill="#333" stroke="none"/>
<path d="M229.1 664.9L231.2 672.4L250.9 677.7L250.1 669.5Z" fill="#fff"/>
<path d="M250.1 669.5L263.9 657.6V664.1L250.9 677.7Z" fill="#fff"/>
<path d="M229.1 664.9L243 652.5L263.9 657.6L250.1 669.5Z" fill="#fff"/>
<path d="M252.6 668.6l2.2 -1.9v6.6l-2.2 2.2z" fill="#000" stroke="none"/>
<path d="M256.5 665.2l2.2 -1.9v6.6l-2.2 2.2z" fill="#000" stroke="none"/>
<path d="M260.4 661.8000000000001l2.2 -1.9v6.6l-2.2 2.2z" fill="#000" stroke="none"/>
<path d="M240.1 646.7v6.8a2.8 1.6 0 0 0 5.6 0v-6.8z" fill="#fff" stroke-width="1.1"/>
<ellipse cx="242.9" cy="646.7" rx="2.8" ry="1.8" fill="#fff" stroke-width="1.25"/>
<path d="M251.0 649.6v6.8a2.8 1.6 0 0 0 5.6 0v-6.8z" fill="#fff" stroke-width="1.1"/>
<ellipse cx="253.8" cy="649.6" rx="2.8" ry="1.8" fill="#fff" stroke-width="1.25"/>
<path d="M235.7 654v6.8a2.8 1.6 0 0 0 5.6 0v-6.8z" fill="#fff" stroke-width="1.1"/>
<ellipse cx="238.5" cy="654" rx="2.8" ry="1.8" fill="#fff" stroke-width="1.25"/>
<path d="M245.89999999999998 656.2v6.8a2.8 1.6 0 0 0 5.6 0v-6.8z" fill="#fff" stroke-width="1.1"/>
<ellipse cx="248.7" cy="656.2" rx="2.8" ry="1.8" fill="#fff" stroke-width="1.25"/>
<path d="M231.5 661.0v6.8a2.8 1.6 0 0 0 5.6 0v-6.8z" fill="#fff" stroke-width="1.1"/>
<ellipse cx="234.3" cy="661.0" rx="2.8" ry="1.8" fill="#fff" stroke-width="1.25"/>
<path d="M241.5 662.7v6.8a2.8 1.6 0 0 0 5.6 0v-6.8z" fill="#fff" stroke-width="1.1"/>
<ellipse cx="244.3" cy="662.7" rx="2.8" ry="1.8" fill="#fff" stroke-width="1.25"/>
<path d="M266.6 667.2l1.2 -3.8l3.2 4.6l1.2 -3.8" stroke-width="0.9"/>
<circle cx="264.7" cy="672.4" r="3.5" fill="#fff" stroke-width="0.8"/><path d="M264.7 670.2v2M262.6 672.3h4.2M263.3 673.5h2.8M264 674.6h1.4" stroke-width="0.6"/>
<path d="M292 664.8l-2.6 0.2l2 1.6z" fill="#000" stroke-width="0.5"/>
<path d="M279.2 668.1l-2.4 -0.6l0.3 1.8zM271.2 679.4l-2.4 -0.6l0.3 1.8z" fill="#fff" stroke-width="0.6"/>
<rect x="194.5" y="695.2" width="116.2" height="24" fill="#fff"/>
<path d="M185.5 719.3H320.5" stroke-width="1.2"/><path d="M185.5 721.1H320.5" stroke-width="1.1"/>
<rect x="217" y="701.6" width="4.9" height="4.9" rx="1.6" fill="#fff" stroke-width="0.8"/>
<circle cx="295.2" cy="704.1" r="2.6" fill="#fff" stroke-width="0.8"/>
<path d="M186.5 711.2L216.8 704.6M298.7 704.3H310.7M194.5 704.6H208.4" stroke-width="0.8"/>
<path d="M213.4 721.6H227.4" stroke-width="1.5"/>
<rect x="217.1" y="722.3" width="6.6" height="6.6" fill="#fff" stroke-width="0.95"/>
<path d="M233.5 721.6H247.5" stroke-width="1.5"/>
<rect x="237.2" y="722.3" width="6.6" height="6.6" fill="#fff" stroke-width="0.95"/>
<path d="M290 721.6H304" stroke-width="1.5"/>
<rect x="293.7" y="722.3" width="6.6" height="6.6" fill="#fff" stroke-width="0.95"/>
<path d="M219.6 728.9V818M221.9 728.9V818" stroke-width="0.85"/>
<path d="M241.1 728.9V818M297.6 728.9V818" stroke-width="1.7"/>
<rect x="245.4" y="722.3" width="14" height="12.9" fill="#fff" stroke-width="1"/>
<rect x="255.2" y="726.2" width="3.3" height="6.8" fill="#000" stroke="none"/>
<path d="M251.4 735.2L261.6 818M255.4 735.2L266.7 818" stroke-width="0.9"/>
<path d="M259.6 730.3H288.2" stroke-dasharray="4 1.5" stroke-width="1.05"/>
<path d="M268.4 724.2Q273 724.6 273 730.3Q273 736 268.6 736.6M268 726.6Q270.6 727 270.6 730.3Q270.6 733.6 268.2 734.2" stroke-width="0.8"/>
<path d="M266.6 724.2l2.8 -1.3v2.8zM266.6 736.6l2.8 -1.5l0.2 2.8zM267 727.4l1.6 -1.4M267 733.4l1.6 1.2" fill="#000" stroke-width="0.5"/>
<path d="M268.5 741.5H283.8" stroke-width="0.7"/><path d="M265.8 741.5l4.4 -1.2v2.4zM286.4 741.5l-4.4 -1.2v2.4z" fill="#fff" stroke-width="0.6"/>
<path d="M268 762.6L269.6 777.2" stroke-width="0.7"/><path d="M267.7 760.1l-0.8 4.4l2.4 -0.3zM269.9 779.6l-1.7 -4.2l2.4 -0.3z" fill="#fff" stroke-width="0.6"/>
<path d="M334.3 750.1A39.6 39.6 0 1 1 339.1 805.9Q330 794 326.5 785L300.3 728.9" fill="#fff"/><path d="M300.3 728.9L334.3 750.1" />
<path d="M353.4 751.7L356.8 746.4Q366 745.6 376.8 746.7L379.6 748.9V757.3L377.9 758.4L354.5 756.2Z" fill="#fff" stroke-width="0.9"/>
<path d="M354.5 756.2L378 758.2" stroke-width="1.5"/>
<path d="M355.6 757.3V762.3L375.7 760.6L379.6 757.3" stroke-width="0.9"/>
<path d="M361.2 760.3H368" stroke-width="1.4"/>
<path d="M363.4 760.3V814.6M365.8 760.3V814.6" stroke-width="0.8"/>
<path d="M366.5 764.2L371.5 774.5L375.5 773.2L372.6 767.6Z" fill="#fff" stroke-width="0.9"/>
<ellipse cx="376.6" cy="769.2" rx="3.4" ry="4.4" transform="rotate(-25 376.6 769.2)" fill="#000" stroke="none"/>
<path d="M374.6 767l3.4 4M375.8 766l3 3.6" stroke="#888" stroke-width="0.4"/>
<path d="M377 786V800" stroke-width="0.9"/><path d="M377 780.1L378.6 787.5H375.4ZM377 805.3L378.6 798H375.4Z" fill="#000" stroke="none"/>
<path d="M338.8 806L345.6 793Q348 791 352.3 791.3L362.3 794.6" stroke-width="0.8"/>
<rect x="349.5" y="796.8" width="13.4" height="5.6" rx="2.8" fill="#fff" stroke-width="0.9"/>
<path d="M363.4 800.7L356.8 807.4Q352 810.5 347.8 813M358 803l-1.6 4M360.2 803.2l-0.6 4.2M362 800h4.6" stroke-width="0.8"/>
<path d="M356.4 806.5l4 -3.4l0.8 3z" fill="#000" stroke="none"/>
</g>
<defs><g id="lamphalf" fill="none" stroke="#000" stroke-linejoin="round">
<path d="M-57.1 0.6V-27.9L-36.4 -47L-32.1 -49.5L-12.7 -55.4Q-3 -57.4 9.2 -56.6L25.7 -51.2L35.1 -48.2L37.2 -47.4L57.1 -28.8V0.6" />
<path d="M-50.8 0.6V-33M-38.1 0.6V-33M-19 0.6V-40M2.1 0.6V-44M22.9 0.6V-45M40.7 0.6V-35M53.7 0.6V-29.5"/>
<path d="M-31.3 -49.5V-43M-13.9 -55V-45.3M6.2 -55.9V-46.5M25.7 -51.2V-46M34.6 -48.2V-45.2"/>
<path class="el" fill="#fff" d="M-50.8 -32.8L-35.5 -47H-31.3V-43.8L-46.6 -28.8Q-49 -27.6 -50.8 -28.3Z"/>
<path class="el" fill="#fff" d="M32.9 -47.4H36.4L53.7 -31V-28.6Q52 -27.6 50 -28.6L32.9 -44Z"/>
<ellipse cx="-27.5" cy="-37.7" rx="12.9" ry="7.0" transform="rotate(-42 -27.5 -37.7)" fill="#fff" class="el"/>
<ellipse cx="31.4" cy="-37.2" rx="12.7" ry="6.8" transform="rotate(42 31.4 -37.2)" fill="#fff" class="el"/>
<ellipse cx="-8.2" cy="-37.4" rx="10.5" ry="9.5" transform="rotate(-15 -8.2 -37.4)" fill="#fff" class="el"/>
<ellipse cx="12.2" cy="-37.4" rx="9.9" ry="9.5" transform="rotate(12 12.2 -37.4)" fill="#fff" class="el"/>
<ellipse cx="-3.8" cy="-52.1" rx="8.9" ry="3.4" transform="rotate(0 -3.8 -52.1)" fill="#fff" class="el"/>
<ellipse cx="16" cy="-52.0" rx="10.2" ry="2.5" transform="rotate(17 16 -52.0)" fill="#fff" class="el"/>
<ellipse cx="-22.2" cy="-51.2" rx="10.2" ry="1.7" transform="rotate(-17 -22.2 -51.2)" fill="#fff" class="el"/>
<path class="el" d="M25.7 -51.2L35.1 -48.2V-45.2L25.7 -46.6Z"/>
</g>
<g id="lamp"><use href="#lamphalf"/><use href="#lamphalf" transform="scale(1,-1)"/></g></defs>
<g stroke-width="1.15" class="lampA"><use href="#lamp" transform="translate(278.5,898.5)"/></g>
<g fill="none" stroke="#000">
<path d="M267.1 818.5V842.2M287.5 818.5V842.6" stroke-width="1.05"/>
<path d="M282 818.5V842.4" stroke-width="1.9"/>
<path d="M277.7 818.6L273.5 841.7" stroke-width="2.1"/><path d="M277.7 818.6L273.5 841.7" stroke="#fff" stroke-width="0.5" stroke-dasharray="1.6 1.4"/>
<path d="M327.3 936V959.5" stroke-width="0.85" stroke-dasharray="9 1.6 1 1.6 40"/>
<rect x="324.4" y="959.5" width="5.9" height="4.2" fill="#fff" stroke-width="0.8"/><path d="M326.4 959.5v4M328.4 959.5v4" stroke-width="0.6"/>
<rect x="322.7" y="964" width="9.3" height="17.2" rx="2.2" fill="#111" stroke-width="0.6"/>
<path d="M324 968h6.6M324 970.5h6.6M324 973h6.6M324 975.5h6.6" stroke="#999" stroke-width="0.5"/><path d="M324.6 979h5.6" stroke="#eee" stroke-width="0.8"/>
<path d="M347.5 972.9V952.9" stroke-width="0.85"/><path d="M347.5 939.8L350.5 952.9H344.5Z" fill="#fff" stroke-width="0.8"/>
</g>
<g fill="none" stroke="#000" stroke-linejoin="round">
<rect x="528.7" y="547.3" width="24.7" height="4.8" fill="#fff" stroke-width="0.9"/>
<path d="M526.2 552.5H556.8" stroke-width="1.2"/>
<path d="M530.8 553.8h2.8M547 553.8h2.6" stroke-width="1.4"/><rect x="539.8" y="553" width="2.6" height="2.4" fill="#fff" stroke-width="0.7"/>
<path d="M532.1 553V776.6" stroke-width="1.9"/>
<path d="M543.6 553V776.6M548.4 553V776.6" stroke-width="1.05"/>
<path d="M541.6 555.5C540 570 538 585 537.3 597C536.4 608 536 614 536.2 622C538.5 645 543.5 672 544.7 692.7C545 703 544.2 708 543.3 714.5C541 738 538.6 760 537.4 776.4" stroke-width="1.3"/>
</g>
<g stroke-width="1.4" class="lampB"><use href="#lamp" transform="translate(541.7,822.9) scale(0.8266,0.821)"/></g>
<g fill="#fff" stroke="#000" stroke-width="0.8" stroke-linejoin="miter">
<path d="M439 777L467.3 805.5M643.5 778.5L616.3 807.4" fill="none"/>
<path d="M487.2 824.3L471.5 801.3L463 809.8Z"/>
<path d="M595.4 826L612.4 803.3L620.4 811.5Z"/>
</g>
</svg>
</body></html>
